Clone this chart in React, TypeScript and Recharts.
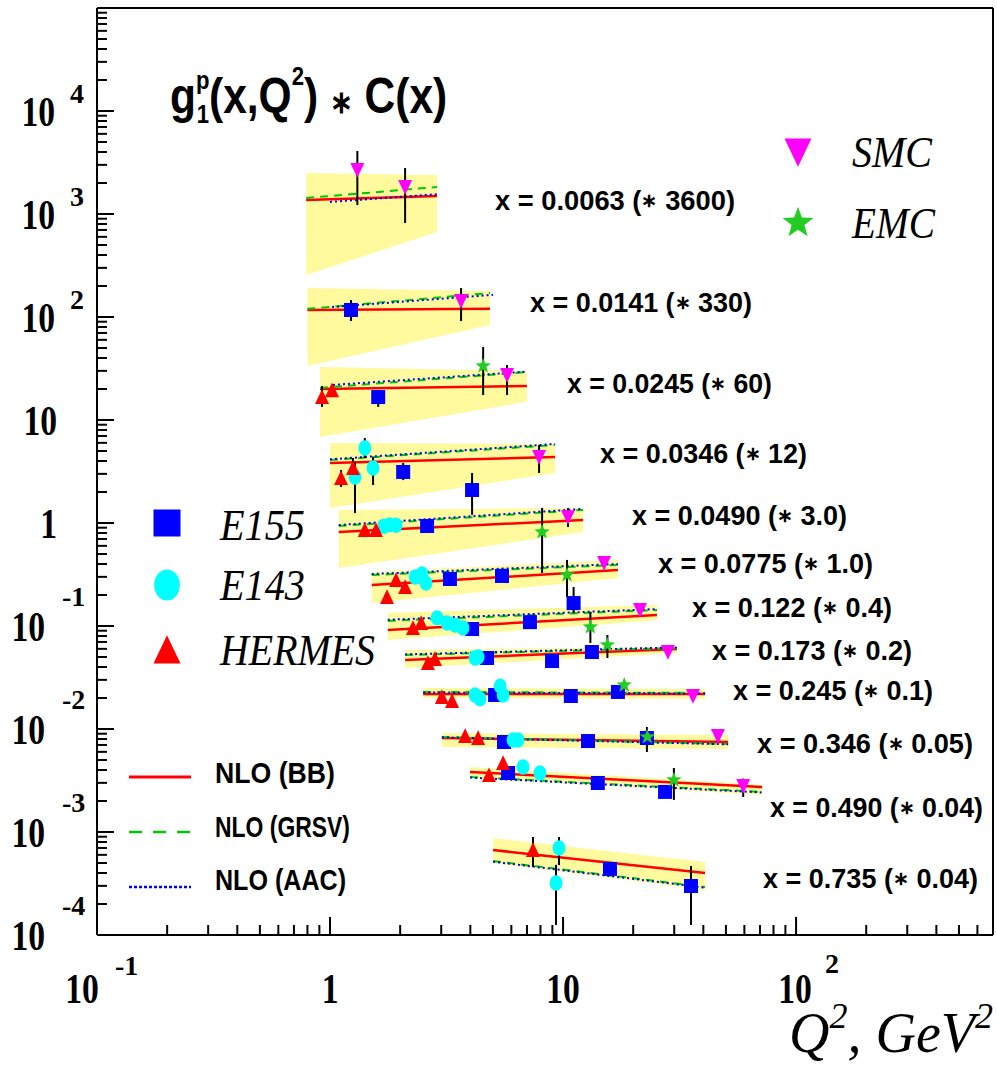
import React from 'react';
import {
  ComposedChart,
  XAxis,
  YAxis,
  Area,
  Line,
  Scatter,
  ErrorBar,
  ReferenceLine,
} from 'recharts';

const W = 997;
const H = 1071;
const PLOT = { left: 97, top: 8, right: 993, bottom: 935 };

// x bins and their scale factors C(x)
const binX = ['0.0063', '0.0141', '0.0245', '0.0346', '0.0490', '0.0775', '0.122', '0.173', '0.245', '0.346', '0.490', '0.735'];
const binFactor = ['3600', '330', '60', '12', '3.0', '1.0', '0.4', '0.2', '0.1', '0.05', '0.04', '0.04'];

// axis decades
const xExponents = [-1, 0, 1, 2];
const yExponents = [-4, -3, -2, -1, 0, 1, 2, 3, 4];

// error bands per bin: [Q2, low, high]
const bands: [number, number, number][][] = [
  [[0.79, 256, 2500], [2.88, 669, 2390]],
  [[0.8, 33.4, 191], [4.86, 83.6, 179]],
  [[0.906, 6.84, 32.7], [7.0, 15.0, 29.9]],
  [[1.0, 1.4, 5.98], [9.24, 3.06, 5.85]],
  [[1.09, 0.366, 1.34], [12.2, 0.818, 1.4]],
  [[1.51, 0.167, 0.334], [17.2, 0.292, 0.438]],
  [[1.77, 0.0731, 0.134], [25.3, 0.114, 0.16]],
  [[2.1, 0.0391, 0.0585], [30.8, 0.0547, 0.0625]],
  [[2.51, 0.02, 0.025], [40.7, 0.0196, 0.0244]],
  [[3.02, 0.00668, 0.00914], [51.1, 0.0064, 0.00875]],
  [[3.99, 0.00334, 0.00428], [71.5, 0.00229, 0.00286]],
  [[5.01, 0.0005, 0.000875], [40.7, 0.000274, 0.000512]],
];

// NLO curves per bin: [Q2, value]
const curveBB: [number, number][][] = [
  [[0.79, 1368], [2.88, 1496]],
  [[0.8, 117], [4.86, 120]],
  [[0.906, 20.0], [7.0, 21.4]],
  [[1.0, 3.83], [9.24, 4.37]],
  [[1.09, 0.818], [12.2, 1.07]],
  [[1.51, 0.25], [17.2, 0.35]],
  [[1.77, 0.0914], [25.3, 0.128]],
  [[2.1, 0.0468], [30.8, 0.0598]],
  [[2.51, 0.0219], [40.7, 0.0219]],
  [[3.02, 0.00818], [51.1, 0.00748]],
  [[3.99, 0.00383], [71.5, 0.00274]],
  [[5.01, 0.000668], [40.7, 0.0004]],
];
const curveGRSV: [number, number][][] = [
  [[0.79, 1430], [2.88, 1829]],
  [[0.8, 120], [4.86, 171]],
  [[0.906, 20.5], [7.0, 29.2]],
  [[1.0, 4.09], [9.24, 5.72]],
  [[1.09, 0.935], [12.2, 1.34]],
  [[1.51, 0.313], [17.2, 0.391]],
  [[1.77, 0.112], [25.3, 0.143]],
  [[2.1, 0.0523], [30.8, 0.0611]],
  [[2.51, 0.0229], [40.7, 0.0224]],
  [[3.02, 0.00836], [51.1, 0.00715]],
  [[3.99, 0.00342], [71.5, 0.00245]],
  [[5.01, 0.000523], [40.7, 0.000292]],
];
const curveAAC: [number, number][][] = [
  [[1.0, 1309], [2.96, 1563]],
  [[1.02, 125], [5.01, 164]],
  [[1.03, 21.9], [7.0, 29.5]],
  [[1.0, 4.15], [9.24, 5.85]],
  [[1.09, 0.956], [12.2, 1.37]],
  [[1.51, 0.32], [17.2, 0.4]],
  [[1.77, 0.115], [25.3, 0.146]],
  [[2.1, 0.053], [30.8, 0.062]],
  [[2.51, 0.0226], [40.7, 0.0221]],
  [[3.02, 0.0083], [51.1, 0.0071]],
  [[3.99, 0.00338], [71.5, 0.00242]],
  [[5.01, 0.000515], [40.7, 0.000288]],
];

// data points: [Q2, value, low, high] (low/high omitted = bar hidden by marker)
type Pt = [number, number, number?, number?];
const e155: Pt[] = [
  [1.23, 117, 91.4, 146],
  [1.61, 16.7, 13.4, 19.5],
  [2.06, 3.13, 2.61, 3.83], [4.07, 2.09, 1.2, 3.06],
  [2.61, 0.935],
  [3.27, 0.286], [5.47, 0.306], [11.1, 0.167, 0.134, 0.239],
  [4.07, 0.0935], [7.21, 0.109],
  [4.72, 0.0489], [8.97, 0.0457], [13.3, 0.0559],
  [5.11, 0.0214], [10.8, 0.0209], [17.2, 0.0229],
  [5.58, 0.00748], [12.8, 0.00764], [22.9, 0.00818, 0.00598, 0.01045],
  [5.81, 0.00374], [14.1, 0.00299], [27.4, 0.00245],
  [15.9, 0.000438], [35.4, 0.000299, 0.000125, 0.000467],
];
const e143: Pt[] = [
  [1.28, 2.8, 1.25, 3.91], [1.41, 5.35, 4.28, 6.69], [1.53, 3.42, 2.34, 4.37],
  [1.7, 0.93], [1.8, 0.96], [1.92, 0.95],
  [2.32, 0.299], [2.48, 0.32], [2.58, 0.261],
  [2.88, 0.12], [3.18, 0.107], [3.44, 0.102], [3.72, 0.0957],
  [4.19, 0.0489], [4.32, 0.05],
  [4.19, 0.0214], [4.4, 0.0196], [5.37, 0.0261], [5.53, 0.0214],
  [6.1, 0.00782], [6.41, 0.00782],
  [6.73, 0.00428], [7.96, 0.00374],
  [9.61, 0.0007, 0.000478, 0.000894], [9.33, 0.00032, 0.000125, 0.00048],
];
const hermes: Pt[] = [
  [0.924, 16.7, 13.4, 21.4], [1.02, 19.5, 17.1, 22.3],
  [1.115, 2.73, 2.24, 3.27], [1.255, 3.42, 2.73, 4.28],
  [1.41, 0.855], [1.575, 0.855],
  [1.756, 0.191], [1.92, 0.28], [2.1, 0.239],
  [2.27, 0.0957], [2.46, 0.107],
  [2.63, 0.0437], [2.82, 0.0478],
  [3.02, 0.0205], [3.34, 0.0187],
  [3.8, 0.00855], [4.32, 0.00818],
  [4.81, 0.00357], [5.53, 0.00468],
  [7.43, 0.000668, 0.000457, 0.000894],
];
const smc: Pt[] = [
  [1.31, 2674, 1222, 4090], [2.1, 1829, 818, 2797],
  [3.65, 143, 91.4, 191],
  [5.75, 27.3, 17.5, 34.2],
  [7.89, 4.37, 3.06, 5.72],
  [10.5, 1.14, 0.915, 1.4],
  [15.0, 0.409],
  [21.4, 0.143],
  [28.2, 0.0559],
  [36.1, 0.0209],
  [46.2, 0.00855],
  [59.3, 0.0028, 0.00219, 0.0033],
];
const emc: Pt[] = [
  [4.54, 33.4, 17.5, 51.1],
  [8.13, 0.818, 0.327, 1.4],
  [10.4, 0.313, 0.191, 0.438],
  [13.1, 0.0978, 0.0684, 0.137],
  [15.5, 0.0654, 0.0489, 0.0818],
  [18.3, 0.0267],
  [23.0, 0.00836],
  [29.9, 0.0032, 0.00205, 0.00418],
];

// pixel boxes of the bin annotations: [x start, x end, y centre]
const labelLayout = [
  [495, 735, 200], [530, 752, 302], [567, 772, 383], [600, 807, 453],
  [632, 847, 515], [658, 873, 563], [692, 892, 607], [712, 912, 650],
  [733, 933, 690], [757, 973, 743], [770, 983, 807], [763, 978, 878],
];

const decadeTicks = (exps: number[], max: number) => {
  const out: number[] = [];
  exps.forEach((e) => {
    for (let m = 1; m <= 9; m++) {
      const v = Number((m * Math.pow(10, e)).toPrecision(6));
      if (v < max) out.push(v);
    }
  });
  return out;
};
const xTicks = decadeTicks(xExponents, 700);
const yTicks = decadeTicks(yExponents, 1e5);

const isMajor = (v: number) => {
  const e = Math.round(Math.log10(v));
  return Math.abs(v - Math.pow(10, e)) < 1e-9 * Math.pow(10, e);
};

const SERIF = '"Liberation Serif", "Times New Roman", serif';
const SANS = '"Liberation Sans", Arial, sans-serif';

const Num = ({ x, y, size, anchor, children }: any) => (
  <text
    transform={`translate(${x},${y}) scale(0.8,1)`}
    textAnchor={anchor}
    fontSize={size}
    fontWeight="bold"
    fontFamily={SERIF}
    fill="#000"
  >
    {children}
  </text>
);

const renderXTick = (props: any) => {
  const { x, payload } = props;
  const v = payload.value;
  const major = isMajor(v);
  const e = Math.round(Math.log10(v));
  const b = PLOT.bottom;
  let label = null;
  if (major) {
    if (e === 0) label = <Num x={x} y={b + 68} size={42} anchor="middle">1</Num>;
    else if (e === 1) label = <Num x={x} y={b + 68} size={42} anchor="middle">10</Num>;
    else
      label = (
        <g>
          <Num x={x + (e < 0 ? -15 : -1)} y={b + 68} size={42} anchor="middle">10</Num>
          <text x={x + (e < 0 ? 18 : 29)} y={b + (e < 0 ? 40 : 38)} fontSize={28} fontWeight="bold" fontFamily={SERIF}>
            {e < 0 ? `-${-e}` : `${e}`}
          </text>
        </g>
      );
  }
  return (
    <g>
      <line x1={x} x2={x} y1={b} y2={b - (major ? 18 : 10)} stroke="#000" strokeWidth={2} />
      {label}
    </g>
  );
};

const renderYTick = (props: any) => {
  const { y, payload } = props;
  const v = payload.value;
  const major = isMajor(v);
  const e = Math.round(Math.log10(v));
  const l = PLOT.left;
  let label = null;
  if (major) {
    if (e === 0) label = <Num x={l - 40} y={y + 15} size={42} anchor="end">1</Num>;
    else if (e === 1) label = <Num x={l - 40} y={y + 15} size={42} anchor="end">10</Num>;
    else if (e > 1)
      label = (
        <g>
          <Num x={l - 42} y={y + 15} size={42} anchor="end">10</Num>
          <text x={l - 27} y={y - 8} fontSize={28} fontWeight="bold" fontFamily={SERIF}>{`${e}`}</text>
        </g>
      );
    else
      label = (
        <g>
          <Num x={l - 52} y={y + 15} size={42} anchor="end">10</Num>
          <text x={l - 35} y={y - 20} fontSize={28} fontWeight="bold" fontFamily={SERIF}>{`-${-e}`}</text>
        </g>
      );
  }
  return (
    <g>
      <line x1={l} x2={l + (major ? 17 : 10)} y1={y} y2={y} stroke="#000" strokeWidth={2} />
      {label}
    </g>
  );
};

// marker shapes
const Square = ({ cx, cy, s = 14 }: any) =>
  cx == null ? null : <rect x={cx - s / 2} y={cy - s / 2} width={s} height={s} fill="#0000ff" />;
const Dot = ({ cx, cy, s = 14 }: any) =>
  cx == null ? null : <ellipse cx={cx} cy={cy} rx={s * 0.46} ry={s * 0.55} fill="#00ffff" />;
const TriUp = ({ cx, cy, s = 14 }: any) =>
  cx == null ? null : (
    <polygon
      points={`${cx},${cy - s * 0.55} ${cx - s / 2},${cy + s * 0.5} ${cx + s / 2},${cy + s * 0.5}`}
      fill="#ff0000"
    />
  );
const TriDown = ({ cx, cy, s = 14 }: any) =>
  cx == null ? null : (
    <polygon
      points={`${cx - s / 2},${cy - s * 0.5} ${cx + s / 2},${cy - s * 0.5} ${cx},${cy + s * 0.55}`}
      fill="#ff00ff"
    />
  );
const Star = ({ cx, cy, s = 14 }: any) => {
  if (cx == null) return null;
  const pts: string[] = [];
  for (let i = 0; i < 10; i++) {
    const a = -Math.PI / 2 + (i * Math.PI) / 5;
    const r = i % 2 === 0 ? s * 0.58 : s * 0.24;
    pts.push(`${cx + r * Math.cos(a)},${cy + r * Math.sin(a)}`);
  }
  return <polygon points={pts.join(' ')} fill="#22cc22" />;
};

const toRows = (pts: Pt[]) =>
  pts.map(([q2, v, lo, hi]) => ({
    q2,
    v,
    err: [lo == null ? 0 : v - lo, hi == null ? 0 : hi - v],
  }));

const pointSets = [
  { name: 'E155', data: e155, Shape: Square },
  { name: 'E143', data: e143, Shape: Dot },
  { name: 'HERMES', data: hermes, Shape: TriUp },
  { name: 'SMC', data: smc, Shape: TriDown },
  { name: 'EMC', data: emc, Shape: Star },
];

const curves = [
  { name: 'BB', data: curveBB, color: '#ff0000', dash: undefined, width: 2.5 },
  { name: 'GRSV', data: curveGRSV, color: '#00c800', dash: '8 6', width: 2 },
  { name: 'AAC', data: curveAAC, color: '#0000ff', dash: '2 3', width: 2 },
];

const Overlay = () => (
  <svg width={W} height={H} style={{ position: 'absolute', left: 0, top: 0, pointerEvents: 'none' }}>
    {/* title */}
    <text transform="translate(170,113) scale(0.85,1)" fontSize={50} fontWeight="bold" fontFamily={SANS}>
      g
      <tspan fontSize={26} dy={-24}>p</tspan>
      <tspan fontSize={26} dx={-15} dy={34}>1</tspan>
      <tspan fontSize={50} dy={-10}>(x,Q</tspan>
      <tspan fontSize={26} dy={-28}>2</tspan>
      <tspan fontSize={50} dy={28}>) </tspan>
      <tspan fontSize={32}>∗</tspan>
      <tspan fontSize={50}> C(x)</tspan>
    </text>

    {/* bin annotations */}
    {binX.map((bx, i) => {
      const [x0, x1, yc] = labelLayout[i];
      return (
        <text
          key={bx}
          x={x0}
          y={yc + 10}
          fontSize={27}
          fontWeight="bold"
          fontFamily={SANS}
          textLength={x1 - x0}
          lengthAdjust="spacingAndGlyphs"
        >
          {`x = ${bx} (`}
          <tspan fontSize={19} dy={-3}>∗</tspan>
          <tspan dy={3}>{` ${binFactor[i]})`}</tspan>
        </text>
      );
    })}

    {/* experiment legends */}
    <TriDown cx={798} cy={152} s={27} />
    <Star cx={798} cy={223} s={28} />
    <Square cx={167} cy={523} s={27} />
    <Dot cx={167} cy={585} s={28} />
    <TriUp cx={167} cy={650} s={27} />
    {[
      ['SMC', 852, 167, 80],
      ['EMC', 852, 238, 83],
      ['E155', 220, 540, 85],
      ['E143', 220, 600, 85],
      ['HERMES', 220, 665, 155],
    ].map(([t, x, y, len]) => (
      <text
        key={t as string}
        x={x as number}
        y={y as number}
        fontSize={44}
        fontStyle="italic"
        fontFamily={SERIF}
        textLength={len as number}
        lengthAdjust="spacingAndGlyphs"
      >
        {t}
      </text>
    ))}

    {/* curve legends */}
    <line x1={129} x2={191} y1={777} y2={777} stroke="#ff0000" strokeWidth={3} />
    <line x1={129} x2={191} y1={832} y2={832} stroke="#00c800" strokeWidth={2.5} strokeDasharray="13 11" />
    <line x1={129} x2={191} y1={887} y2={887} stroke="#0000ff" strokeWidth={2.5} strokeDasharray="3 2" />
    {[
      ['NLO (BB)', 783, 120],
      ['NLO (GRSV)', 837, 135],
      ['NLO (AAC)', 890, 131],
    ].map(([t, y, len]) => (
      <text
        key={t as string}
        x={215}
        y={y as number}
        fontSize={30}
        fontWeight="bold"
        fontFamily={SANS}
        textLength={len as number}
        lengthAdjust="spacingAndGlyphs"
      >
        {t}
      </text>
    ))}

    {/* axis title */}
    <text x={789} y={1052} fontSize={56} fontStyle="italic" fontFamily={SERIF}>
      Q<tspan fontSize={36} dy={-24}>2</tspan>
      <tspan dy={24}>, GeV</tspan>
      <tspan fontSize={36} dy={-24}>2</tspan>
    </text>
  </svg>
);

const App: React.FC = () => {
  return (
    <div style={{ position: 'absolute', left: 0, top: 0, width: W, height: H, background: '#fff' }}>
      <ComposedChart width={W} height={H} margin={{ top: PLOT.top, right: W - PLOT.right, bottom: 0, left: 0 }}>
        <XAxis
          dataKey="q2"
          type="number"
          scale="log"
          domain={[0.1, 700]}
          allowDataOverflow
          ticks={xTicks}
          interval={0}
          tick={renderXTick}
          tickLine={false}
          tickSize={0}
          height={H - PLOT.bottom}
          axisLine={{ stroke: '#000', strokeWidth: 2 }}
        />
        <YAxis
          type="number"
          scale="log"
          domain={[1e-4, 1e5]}
          allowDataOverflow
          ticks={yTicks}
          interval={0}
          tick={renderYTick}
          tickLine={false}
          tickSize={0}
          width={PLOT.left}
          axisLine={{ stroke: '#000', strokeWidth: 2 }}
        />
        <ReferenceLine y={1e5} stroke="#000" strokeWidth={2} />
        <ReferenceLine x={700} stroke="#000" strokeWidth={2} />

        {bands.map((b, i) => (
          <Area
            key={`band${i}`}
            data={b.map(([q2, lo, hi]) => ({ q2, range: [lo, hi] }))}
            dataKey="range"
            type="linear"
            stroke="none"
            fill="#fffa9e"
            fillOpacity={1}
            isAnimationActive={false}
          />
        ))}

        {curves.map((c) =>
          c.data.map((seg, i) => (
            <Line
              key={`${c.name}${i}`}
              data={seg.map(([q2, v]) => ({ q2, v }))}
              dataKey="v"
              type="linear"
              stroke={c.color}
              strokeWidth={c.width}
              strokeDasharray={c.dash}
              dot={false}
              activeDot={false}
              isAnimationActive={false}
            />
          ))
        )}

        {pointSets.map(({ name, data, Shape }) => (
          <Scatter
            key={name}
            name={name}
            data={toRows(data)}
            dataKey="v"
            shape={(p: any) => <Shape cx={p.cx} cy={p.cy} />}
            isAnimationActive={false}
          >
            <ErrorBar dataKey="err" direction="y" width={0} stroke="#000" strokeWidth={2} />
          </Scatter>
        ))}
      </ComposedChart>
      <Overlay />
    </div>
  );
};

export default App;
